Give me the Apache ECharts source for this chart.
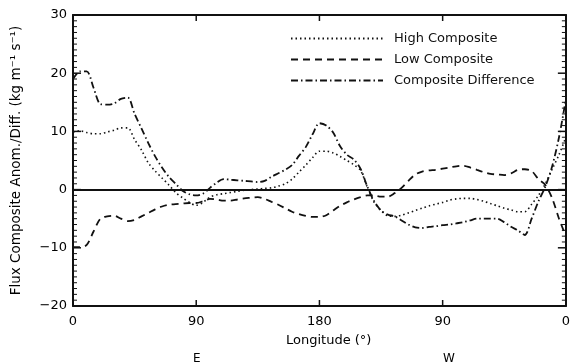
<!DOCTYPE html>
<html>
<head>
<meta charset="utf-8">
<script src="https://cdn.jsdelivr.net/npm/echarts@6/dist/echarts.min.js"></script>
<style>html,body{margin:0;padding:0;background:#fff}#c{width:573px;height:362px}</style>
</head>
<body>
<div id="c"></div>
<script>
const longitude = [0,5,10,15,20,25,30,35,40,45,50,55,60,65,70,75,80,85,90,95,100,105,110,115,120,125,130,135,140,145,150,155,160,165,170,175,180,185,190,195,200,205,210,215,220,225,230,235,240,245,250,255,260,265,270,275,280,285,290,295,300,305,310,315,320,325,330,335,340,345,350,355,360];
const highComposite = [9.8,10.1,9.8,9.6,9.6,9.9,10.2,10.6,10.6,8.6,6.8,4.6,3.2,2.0,0.8,-0.5,-1.4,-2.2,-2.7,-2.2,-1.3,-0.9,-0.7,-0.5,-0.3,-0.1,0.0,0.1,0.2,0.3,0.6,1.0,1.8,3.0,4.2,5.5,6.6,6.6,6.3,5.7,5.0,4.3,3.3,0.4,-2.2,-3.6,-4.5,-4.6,-4.4,-4.0,-3.6,-3.2,-2.8,-2.5,-2.2,-1.8,-1.6,-1.5,-1.5,-1.7,-2.0,-2.4,-2.8,-3.2,-3.5,-3.8,-3.8,-2.5,-1.0,1.0,3.5,6.0,9.0];
const lowComposite = [-9.9,-9.9,-9.5,-7.2,-5.0,-4.6,-4.5,-5.0,-5.4,-5.2,-4.6,-4.0,-3.4,-2.9,-2.6,-2.5,-2.4,-2.3,-2.3,-2.0,-1.6,-1.7,-1.9,-1.9,-1.7,-1.5,-1.4,-1.3,-1.6,-2.1,-2.6,-3.2,-3.8,-4.2,-4.5,-4.7,-4.7,-4.4,-3.6,-2.8,-2.2,-1.7,-1.3,-1.0,-1.0,-1.2,-1.2,-0.6,0.3,1.5,2.6,3.1,3.3,3.4,3.6,3.8,4.0,4.1,3.8,3.4,3.0,2.7,2.6,2.5,2.8,3.4,3.5,3.2,1.8,0.8,-1.5,-5.0,-8.0];
const compositeDifference = [19.0,20.3,20.3,17.5,14.7,14.6,14.8,15.6,15.8,13.0,10.5,8.0,5.7,3.8,2.2,1.0,-0.2,-0.8,-1.0,-0.7,0.3,1.2,1.8,1.7,1.6,1.5,1.4,1.3,1.5,2.2,2.8,3.4,4.2,5.8,7.3,9.5,11.4,11.0,9.8,7.5,6.0,5.2,3.6,0.5,-2.0,-3.6,-4.3,-4.6,-5.3,-6.0,-6.5,-6.6,-6.4,-6.3,-6.1,-6.0,-5.8,-5.6,-5.3,-5.0,-5.0,-5.0,-5.0,-5.6,-6.4,-7.0,-7.8,-5.0,-2.0,0.5,4.0,9.0,15.5];
const seriesNames = ['High Composite','Low Composite','Composite Difference'];
const xTickValues = [0,90,180,270,360];
const xTickLabels = ['0','90','180','90','0'];
const yTickValues = [-20,-10,0,10,20,30];
const yTickLabels = ['\u221220','\u221210','0','10','20','30'];

const ink = '#111';
const font = '"DejaVu Sans", Verdana, sans-serif';
const pairs = arr => longitude.map((x,i)=>[x,arr[i]]);

const line = {show:true, onZero:false, lineStyle:{color:ink, width:2}};
const xBase = {type:'value', min:0, max:360, interval:90, splitLine:{show:false}, axisTick:{show:false}, axisLine:line};
const yBase = {type:'value', min:-20, max:30, interval:10, splitLine:{show:false}, axisTick:{show:false}, axisLine:line};

const texts = [
  {id:'t1', type:'text', left:286, top:334, style:{text:'Longitude (\u00B0)', font:'13px '+font, fill:'#000'}},
  {id:'t2', type:'text', left:193, top:353, style:{text:'E', font:'12px '+font, fill:'#000'}},
  {id:'t3', type:'text', left:443, top:353, style:{text:'W', font:'12px '+font, fill:'#000'}}
];

const chart = echarts.init(document.getElementById('c'), null, {renderer:'canvas'});
chart.setOption({
  animation:false,
  backgroundColor:'#fff',
  grid:{left:73, right:5, top:15, bottom:56},
  legend:{
    orient:'vertical', left:285, top:27, itemWidth:92, itemHeight:10, itemGap:8,
    itemStyle:{color:'transparent', borderWidth:0, opacity:0},
    textStyle:{fontFamily:font, fontSize:13, color:ink, padding:[0,0,0,6]},
    data:seriesNames
  },
  xAxis:[
    Object.assign({}, xBase, {position:'bottom',
      axisLabel:{fontFamily:font, fontSize:13, color:'#000', margin:9,
        formatter:v=>{const i=xTickValues.indexOf(v);return i>=0?xTickLabels[i]:'';}}}),
    Object.assign({}, xBase, {position:'top', axisLabel:{show:false}})
  ],
  yAxis:[
    Object.assign({}, yBase, {position:'left',
      name:'Flux Composite Anom./Diff. (kg m\u207B\u00B9 s\u207B\u00B9)',
      nameLocation:'middle', nameGap:50,
      nameTextStyle:{fontFamily:font, fontSize:13.5, color:'#000'},
      axisLabel:{fontFamily:font, fontSize:13, color:'#000', margin:6,
        formatter:v=>{const i=yTickValues.indexOf(v);return i>=0?yTickLabels[i]:'';}}}),
    Object.assign({}, yBase, {position:'right', axisLabel:{show:false}})
  ],
  series:[{
    name:seriesNames[0], type:'line', data:pairs(highComposite), symbol:'none', smooth:0.3,
    lineStyle:{color:ink, width:1.6, type:[1.5,3]}, itemStyle:{color:ink},
    markLine:{silent:true, symbol:'none', label:{show:false},
      lineStyle:{color:ink, width:1.8, type:'solid'}, data:[{yAxis:0}]}
  },{
    name:seriesNames[1], type:'line', data:pairs(lowComposite), symbol:'none', smooth:0.3,
    lineStyle:{color:ink, width:1.8, type:[7,5]}, itemStyle:{color:ink}
  },{
    name:seriesNames[2], type:'line', data:pairs(compositeDifference), symbol:'none', smooth:0.3,
    lineStyle:{color:ink, width:1.8, type:[7,3,1.5,3]}, itemStyle:{color:ink}
  }],
  graphic:texts
});

// inward frame ticks, placed through the chart's own scales
try {
  const toPx = p => chart.convertToPixel({xAxisIndex:0, yAxisIndex:0}, p);
  const ticks = [];
  let n = 0;
  const seg = (x1,y1,x2,y2,w) => ticks.push({id:'k'+(n++), type:'line', z:100, silent:true,
    shape:{x1:x1,y1:y1,x2:x2,y2:y2}, style:{stroke:ink, lineWidth:w}});
  for (let v = -20; v <= 30; v += 1) {
    const major = yTickValues.indexOf(v) >= 0;
    const len = major ? 8 : 4, w = major ? 1.5 : 1;
    const a = toPx([0, v]), b = toPx([360, v]);
    seg(a[0], a[1], a[0]+len, a[1], w);
    seg(b[0], b[1], b[0]-len, b[1], w);
  }
  [90,180,270].forEach(v => {
    const a = toPx([v, -20]), b = toPx([v, 30]);
    seg(a[0], a[1], a[0], a[1]-6, 1.5);
    seg(b[0], b[1], b[0], b[1]+6, 1.5);
  });
  chart.setOption({graphic: texts.concat(ticks)});
} catch (e) { console.error(e); }
</script>
</body>
</html>
